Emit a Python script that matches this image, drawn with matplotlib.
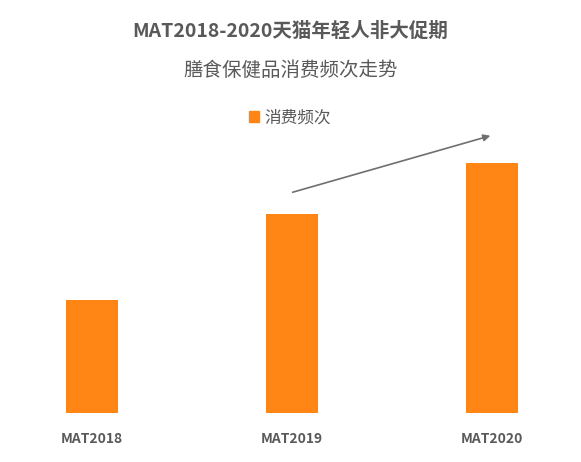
import matplotlib
matplotlib.use("Agg")
import matplotlib.pyplot as plt
from matplotlib.patches import Patch

plt.rcParams['font.family'] = ['Noto Sans CJK SC', 'DejaVu Sans']

categories = ["MAT2018", "MAT2019", "MAT2020"]
values = [1.13, 1.99, 2.50]
series_name = "消费频次"
title_1 = "MAT2018-2020天猫年轻人非大促期"
title_2 = "膳食保健品消费频次走势"

fig = plt.figure(figsize=(5.81, 4.62), dpi=100)
ax = fig.add_axes([0, 49/462, 1, 313/462])
x = list(range(len(categories)))
color = "#FF8515"
ax.bar(x, values, width=0.26, color=color)
ax.set_xlim(-0.46, 2.445)
ax.set_ylim(0, 3.13)
for s in ax.spines.values():
    s.set_visible(False)
ax.set_yticks([])
ax.set_xticks(x)
ax.set_xticklabels(categories, fontsize=10, fontweight='bold', color="#595959")
ax.tick_params(axis='x', length=0, pad=14)

ax.annotate("", xy=(2.005, 2.78), xytext=(0.99, 2.20),
            arrowprops=dict(arrowstyle="-|>", color="#707070", lw=1.2, mutation_scale=10))

fig.text(0.5, 1 - 31/462, title_1, ha='center', va='center', fontsize=14,
         fontweight='bold', color="#595959")
fig.text(0.5, 1 - 70/462, title_2, ha='center', va='center', fontsize=14,
         color="#595959")
fig.legend(handles=[Patch(color=color)], labels=[series_name], loc='center',
           bbox_to_anchor=(290/581, 1 - 118/462), frameon=False, fontsize=12,
           handlelength=0.6, handleheight=0.6, handletextpad=0.3, labelcolor="#595959")

fig.savefig("out.png", dpi=100, facecolor="white")
